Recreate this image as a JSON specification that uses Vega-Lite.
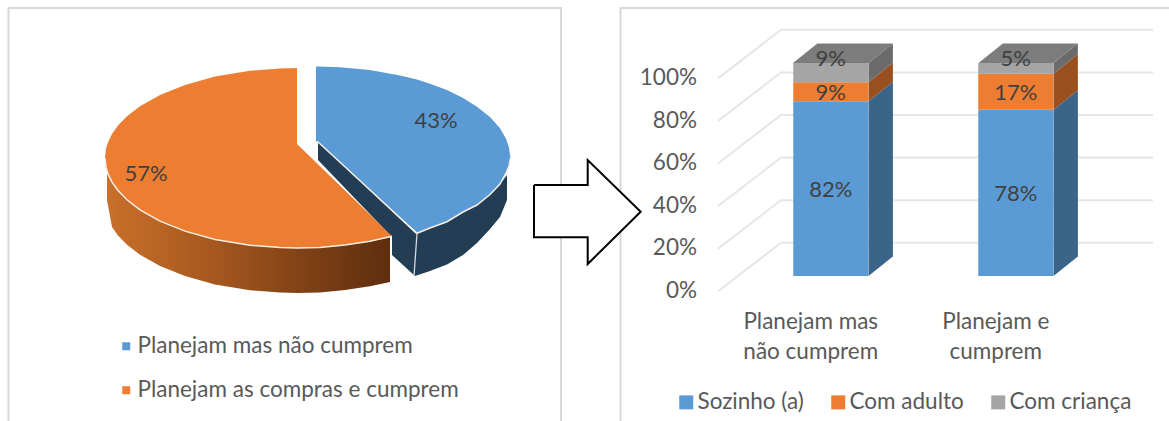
{
  "$schema": "https://vega.github.io/schema/vega-lite/v6.json",
  "padding": 0,
  "background": "white",
  "spacing": 103,
  "bounds": "flush",
  "config": {"view": {"stroke": null}, "font": "Lato", "axis": {"labelFont": "Lato"}, "legend": {"labelFont": "Lato"}},
  "datasets": {
    "frameLeft": [
      {"n": 1, "u": 8.5, "v": 421}, {"n": 2, "u": 8.5, "v": 8}, {"n": 3, "u": 561, "v": 8}, {"n": 4, "u": 561, "v": 421}
    ],
    "pieSideDark": [
      {"part": "inner", "u": 318, "v": 142, "v2": 160},
      {"part": "inner", "u": 392, "v": 211, "v2": 237},
      {"part": "inner", "u": 392, "v": 211, "v2": 255},
      {"part": "inner", "u": 415, "v": 233, "v2": 276},
      {"part": "outer", "u": 415, "v": 233.5, "v2": 276},
      {"part": "outer", "u": 430, "v": 228, "v2": 271},
      {"part": "outer", "u": 447, "v": 221.7, "v2": 264.5},
      {"part": "outer", "u": 463, "v": 212, "v2": 255},
      {"part": "outer", "u": 477, "v": 205, "v2": 243},
      {"part": "outer", "u": 490, "v": 194.5, "v2": 229},
      {"part": "outer", "u": 500, "v": 184, "v2": 217},
      {"part": "outer", "u": 507, "v": 175, "v2": 200}
    ],
    "pieSideWarm": [
      {"u": 107, "v": 173.8, "v2": 200},
      {"u": 112, "v": 182.1, "v2": 227.1},
      {"u": 118, "v": 190.5, "v2": 235.5},
      {"u": 127, "v": 199.8, "v2": 244.8},
      {"u": 140, "v": 209.8, "v2": 254.8},
      {"u": 160, "v": 221.1, "v2": 266.1},
      {"u": 185, "v": 231.1, "v2": 276.1},
      {"u": 215, "v": 239.4, "v2": 284.4},
      {"u": 250, "v": 245.3, "v2": 290.3},
      {"u": 280, "v": 247.6, "v2": 292.6},
      {"u": 297, "v": 248, "v2": 293},
      {"u": 320, "v": 247.4, "v2": 292.4},
      {"u": 345, "v": 245.1, "v2": 290.1},
      {"u": 370, "v": 241.2, "v2": 286.2},
      {"u": 390, "v": 237, "v2": 282}
    ],
    "pieTop": [
      {"slice": "Planejam mas não cumprem", "u": 316, "v": 66.5, "v2": 142},
      {"slice": "Planejam mas não cumprem", "u": 318, "v": 66.5, "v2": 142},
      {"slice": "Planejam mas não cumprem", "u": 340, "v": 67.2, "v2": 162.3},
      {"slice": "Planejam mas não cumprem", "u": 370, "v": 70, "v2": 190},
      {"slice": "Planejam mas não cumprem", "u": 400, "v": 75.4, "v2": 217.9},
      {"slice": "Planejam mas não cumprem", "u": 417, "v": 79.5, "v2": 233.3},
      {"slice": "Planejam mas não cumprem", "u": 430, "v": 83.8, "v2": 228},
      {"slice": "Planejam mas não cumprem", "u": 447, "v": 90, "v2": 221.7},
      {"slice": "Planejam mas não cumprem", "u": 463, "v": 98, "v2": 212},
      {"slice": "Planejam mas não cumprem", "u": 477, "v": 106.8, "v2": 205},
      {"slice": "Planejam mas não cumprem", "u": 490, "v": 117, "v2": 194.5},
      {"slice": "Planejam mas não cumprem", "u": 500, "v": 128.3, "v2": 184},
      {"slice": "Planejam mas não cumprem", "u": 506, "v": 138.7, "v2": 173},
      {"slice": "Planejam mas não cumprem", "u": 509, "v": 147.8, "v2": 166},
      {"slice": "Planejam mas não cumprem", "u": 510.5, "v": 158, "v2": 158},
      {"slice": "Planejam as compras e cumprem", "u": 105, "v": 158, "v2": 158},
      {"slice": "Planejam as compras e cumprem", "u": 106, "v": 148.8, "v2": 167.2},
      {"slice": "Planejam as compras e cumprem", "u": 108, "v": 142.2, "v2": 173.8},
      {"slice": "Planejam as compras e cumprem", "u": 112, "v": 133.9, "v2": 182.1},
      {"slice": "Planejam as compras e cumprem", "u": 118, "v": 125.5, "v2": 190.5},
      {"slice": "Planejam as compras e cumprem", "u": 127, "v": 116.2, "v2": 199.8},
      {"slice": "Planejam as compras e cumprem", "u": 140, "v": 106.2, "v2": 209.8},
      {"slice": "Planejam as compras e cumprem", "u": 160, "v": 94.9, "v2": 221.1},
      {"slice": "Planejam as compras e cumprem", "u": 185, "v": 84.9, "v2": 231.1},
      {"slice": "Planejam as compras e cumprem", "u": 215, "v": 76.6, "v2": 239.4},
      {"slice": "Planejam as compras e cumprem", "u": 250, "v": 70.7, "v2": 245.3},
      {"slice": "Planejam as compras e cumprem", "u": 280, "v": 68.4, "v2": 247.6},
      {"slice": "Planejam as compras e cumprem", "u": 297, "v": 68, "v2": 248},
      {"slice": "Planejam as compras e cumprem", "u": 297, "v": 144, "v2": 248},
      {"slice": "Planejam as compras e cumprem", "u": 320, "v": 166.3, "v2": 247.4},
      {"slice": "Planejam as compras e cumprem", "u": 345, "v": 190.5, "v2": 245.1},
      {"slice": "Planejam as compras e cumprem", "u": 370, "v": 214.7, "v2": 241.2},
      {"slice": "Planejam as compras e cumprem", "u": 392, "v": 236.2, "v2": 236.2}
    ],
    "pieEdge": [
      {"n": 1, "u": 417, "v": 233.5}, {"n": 2, "u": 414, "v": 276}
    ],
    "pieShares": [
      {"slice": "Planejam mas não cumprem", "share": 0.43, "u": 436, "v": 121},
      {"slice": "Planejam as compras e cumprem", "share": 0.57, "u": 146, "v": 174}
    ],
    "frameRight": [
      {"n": 1, "u": -82.5, "y": -0.6808}, {"n": 2, "u": -82.5, "y": 1.2582}, {"n": 3, "u": 466, "y": 1.2582}
    ],
    "grid": [
      {"tick": 0, "n": 1, "u": 15, "y": -0.072}, {"tick": 0, "n": 2, "u": 78, "y": 0.156}, {"tick": 0, "n": 3, "u": 450, "y": 0.156},
      {"tick": 20, "n": 1, "u": 15, "y": 0.128}, {"tick": 20, "n": 2, "u": 78, "y": 0.356}, {"tick": 20, "n": 3, "u": 450, "y": 0.356},
      {"tick": 40, "n": 1, "u": 15, "y": 0.328}, {"tick": 40, "n": 2, "u": 78, "y": 0.556}, {"tick": 40, "n": 3, "u": 450, "y": 0.556},
      {"tick": 60, "n": 1, "u": 15, "y": 0.528}, {"tick": 60, "n": 2, "u": 78, "y": 0.756}, {"tick": 60, "n": 3, "u": 450, "y": 0.756},
      {"tick": 80, "n": 1, "u": 15, "y": 0.728}, {"tick": 80, "n": 2, "u": 78, "y": 0.956}, {"tick": 80, "n": 3, "u": 450, "y": 0.956},
      {"tick": 100, "n": 1, "u": 15, "y": 0.928}, {"tick": 100, "n": 2, "u": 78, "y": 1.156}, {"tick": 100, "n": 3, "u": 450, "y": 1.156}
    ],
    "tickLabels": [
      {"tick": 0}, {"tick": 0.2}, {"tick": 0.4}, {"tick": 0.6}, {"tick": 0.8}, {"tick": 1}
    ],
    "barSides": [
      {"key": "a1", "series": "Sozinho (a)", "u": 165.5, "top": 0.82, "base": 0},
      {"key": "a1", "series": "Sozinho (a)", "u": 189.9, "top": 0.9115, "base": 0.0915},
      {"key": "a2", "series": "Com adulto", "u": 165.5, "top": 0.91, "base": 0.82},
      {"key": "a2", "series": "Com adulto", "u": 189.9, "top": 1.0015, "base": 0.9115},
      {"key": "a3", "series": "Com criança", "u": 165.5, "top": 1.0, "base": 0.91},
      {"key": "a3", "series": "Com criança", "u": 189.9, "top": 1.0915, "base": 1.0015},
      {"key": "b1", "series": "Sozinho (a)", "u": 350.5, "top": 0.78, "base": 0},
      {"key": "b1", "series": "Sozinho (a)", "u": 374.9, "top": 0.8715, "base": 0.0915},
      {"key": "b2", "series": "Com adulto", "u": 350.5, "top": 0.95, "base": 0.78},
      {"key": "b2", "series": "Com adulto", "u": 374.9, "top": 1.0415, "base": 0.8715},
      {"key": "b3", "series": "Com criança", "u": 350.5, "top": 1.0, "base": 0.95},
      {"key": "b3", "series": "Com criança", "u": 374.9, "top": 1.0915, "base": 1.0415}
    ],
    "barTops": [
      {"key": "a", "u": 90, "top": 1.0, "base": 1.0},
      {"key": "a", "u": 114.4, "top": 1.0915, "base": 1.0},
      {"key": "a", "u": 165.5, "top": 1.0915, "base": 1.0},
      {"key": "a", "u": 189.9, "top": 1.0915, "base": 1.0915},
      {"key": "b", "u": 275.5, "top": 1.0, "base": 1.0},
      {"key": "b", "u": 299.9, "top": 1.0915, "base": 1.0},
      {"key": "b", "u": 350.5, "top": 1.0915, "base": 1.0},
      {"key": "b", "u": 374.9, "top": 1.0915, "base": 1.0915}
    ],
    "arrowFill": [
      {"u": -169, "top": 0.4272, "base": 0.1817},
      {"u": -115.3, "top": 0.4272, "base": 0.1817},
      {"u": -115.3, "top": 0.5446, "base": 0.0563},
      {"u": -62.3, "top": 0.3019, "base": 0.3019}
    ],
    "arrowLine": [
      {"n": 1, "u": -169, "y": 0.4272}, {"n": 2, "u": -115.3, "y": 0.4272}, {"n": 3, "u": -115.3, "y": 0.5446},
      {"n": 4, "u": -62.3, "y": 0.3019}, {"n": 5, "u": -115.3, "y": 0.0563}, {"n": 6, "u": -115.3, "y": 0.1817},
      {"n": 7, "u": -169, "y": 0.1817}, {"n": 8, "u": -169, "y": 0.4272}
    ],
    "barValues": [
      {"group": "Planejam mas não cumprem", "series": "Sozinho (a)", "rank": 1, "value": 0.82},
      {"group": "Planejam mas não cumprem", "series": "Com adulto", "rank": 2, "value": 0.09},
      {"group": "Planejam mas não cumprem", "series": "Com criança", "rank": 3, "value": 0.09},
      {"group": "Planejam e cumprem", "series": "Sozinho (a)", "rank": 1, "value": 0.78},
      {"group": "Planejam e cumprem", "series": "Com adulto", "rank": 2, "value": 0.17},
      {"group": "Planejam e cumprem", "series": "Com criança", "rank": 3, "value": 0.05}
    ]
  },
  "hconcat": [
    {
      "width": 600,
      "height": 421,
      "layer": [
        {
          "data": {"name": "frameLeft"},
          "mark": {"type": "line", "color": "#D9D9D9", "strokeWidth": 2, "clip": false},
          "encoding": {
            "x": {"field": "u", "type": "quantitative", "scale": {"domain": [0, 600], "nice": false, "zero": false}, "axis": null},
            "y": {"field": "v", "type": "quantitative", "scale": {"domain": [421, 0], "nice": false, "zero": false}, "axis": null},
            "order": {"field": "n"}
          }
        },
        {
          "data": {"name": "pieSideDark"},
          "mark": {"type": "area", "orient": "vertical", "color": "#233E54"},
          "encoding": {
            "x": {"field": "u", "type": "quantitative"},
            "y": {"field": "v", "type": "quantitative"},
            "y2": {"field": "v2"},
            "detail": {"field": "part"}
          }
        },
        {
          "data": {"name": "pieSideWarm"},
          "mark": {
            "type": "area",
            "orient": "vertical",
            "color": {
              "gradient": "linear",
              "x1": 0, "y1": 0, "x2": 1, "y2": 0,
              "stops": [
                {"offset": 0, "color": "#C8702B"},
                {"offset": 0.35, "color": "#A9591F"},
                {"offset": 0.7, "color": "#7F4116"},
                {"offset": 1, "color": "#5E2E0E"}
              ]
            }
          },
          "encoding": {
            "x": {"field": "u", "type": "quantitative"},
            "y": {"field": "v", "type": "quantitative"},
            "y2": {"field": "v2"}
          }
        },
        {
          "data": {"name": "pieTop"},
          "mark": {"type": "area", "orient": "vertical"},
          "encoding": {
            "x": {"field": "u", "type": "quantitative"},
            "y": {"field": "v", "type": "quantitative"},
            "y2": {"field": "v2"},
            "color": {
              "field": "slice",
              "type": "nominal",
              "scale": {"domain": ["Planejam mas não cumprem", "Planejam as compras e cumprem"], "range": ["#5B9BD5", "#ED7D31"]},
              "legend": {
                "orient": "none",
                "legendX": 115,
                "legendY": 335,
                "title": null,
                "symbolType": "square",
                "symbolSize": 64,
                "symbolStrokeWidth": 0,
                "labelFontSize": 22.5,
                "labelColor": "#595959",
                "labelOffset": 0,
                "labelLimit": 420,
                "rowPadding": 21
              }
            }
          }
        },
        {
          "data": {"name": "pieTop"},
          "mark": {"type": "line", "color": "#F6EDE5", "strokeWidth": 1.5},
          "encoding": {
            "x": {"field": "u", "type": "quantitative"},
            "y": {"field": "v2", "type": "quantitative"},
            "detail": {"field": "slice"}
          }
        },
        {
          "data": {"name": "pieEdge"},
          "mark": {"type": "line", "color": "#D5DBE0", "strokeWidth": 1.3},
          "encoding": {
            "x": {"field": "u", "type": "quantitative"},
            "y": {"field": "v", "type": "quantitative"},
            "order": {"field": "n"}
          }
        },
        {
          "data": {"name": "pieShares"},
          "mark": {"type": "text", "fontSize": 22, "color": "#404040", "align": "center", "baseline": "middle"},
          "encoding": {
            "x": {"field": "u", "type": "quantitative"},
            "y": {"field": "v", "type": "quantitative"},
            "text": {"field": "share", "type": "quantitative", "format": ".0%"}
          }
        }
      ]
    },
    {
      "width": 466,
      "height": 421,
      "resolve": {"scale": {"x": "independent", "color": "independent"}},
      "layer": [
        {
          "layer": [
            {
              "data": {"name": "frameRight"},
              "mark": {"type": "line", "color": "#D9D9D9", "strokeWidth": 2, "clip": false},
              "encoding": {
                "x": {"field": "u", "type": "quantitative", "scale": {"domain": [0, 466], "nice": false, "zero": false}, "axis": null},
                "y": {"field": "y", "type": "quantitative", "scale": {"domain": [-0.6808, 1.2958], "nice": false, "zero": false}, "axis": null},
                "order": {"field": "n"}
              }
            },
            {
              "data": {"name": "grid"},
              "mark": {"type": "line", "color": "#E6E6E6", "strokeWidth": 2},
              "encoding": {
                "x": {"field": "u", "type": "quantitative"},
                "y": {"field": "y", "type": "quantitative", "axis": null},
                "detail": {"field": "tick"},
                "order": {"field": "n"}
              }
            },
            {
              "data": {"name": "barSides"},
              "mark": {"type": "area", "orient": "vertical"},
              "encoding": {
                "x": {"field": "u", "type": "quantitative"},
                "y": {"field": "top", "type": "quantitative", "axis": null},
                "y2": {"field": "base"},
                "detail": {"field": "key"},
                "color": {
                  "field": "series",
                  "type": "nominal",
                  "scale": {"domain": ["Sozinho (a)", "Com adulto", "Com criança"], "range": ["#3A6488", "#9A4F1E", "#6B6B6B"]},
                  "legend": null
                }
              }
            },
            {
              "data": {"name": "barTops"},
              "mark": {"type": "area", "orient": "vertical", "color": "#7C7C7C"},
              "encoding": {
                "x": {"field": "u", "type": "quantitative"},
                "y": {"field": "top", "type": "quantitative", "axis": null},
                "y2": {"field": "base"},
                "detail": {"field": "key"}
              }
            },
            {
              "data": {"name": "arrowFill"},
              "mark": {"type": "area", "orient": "vertical", "color": "white"},
              "encoding": {
                "x": {"field": "u", "type": "quantitative"},
                "y": {"field": "top", "type": "quantitative", "axis": null},
                "y2": {"field": "base"}
              }
            },
            {
              "data": {"name": "arrowLine"},
              "mark": {"type": "line", "color": "black", "strokeWidth": 2, "strokeJoin": "miter"},
              "encoding": {
                "x": {"field": "u", "type": "quantitative"},
                "y": {"field": "y", "type": "quantitative", "axis": null},
                "order": {"field": "n"}
              }
            },
            {
              "data": {"name": "tickLabels"},
              "mark": {"type": "text", "fontSize": 22.5, "color": "#595959", "align": "right", "baseline": "middle", "dy": 15},
              "encoding": {
                "x": {"datum": -6},
                "y": {"field": "tick", "type": "quantitative", "axis": null},
                "text": {"field": "tick", "type": "quantitative", "format": ".0%"}
              }
            }
          ]
        },
        {
          "layer": [
            {
              "data": {"name": "barValues"},
              "mark": {"type": "bar"},
              "encoding": {
                "x": {
                  "field": "group",
                  "type": "nominal",
                  "scale": {
                    "domain": ["Planejam mas não cumprem", "Planejam e cumprem"],
                    "range": [35.25, 405.25],
                    "paddingInner": 0.5946,
                    "paddingOuter": 0.2973
                  },
                  "axis": {
                    "title": null,
                    "orient": "bottom",
                    "offset": -111,
                    "domain": false,
                    "ticks": false,
                    "labelAngle": 0,
                    "labelOffset": -20,
                    "labelPadding": 0,
                    "labelFontSize": 22.5,
                    "labelColor": "#595959",
                    "labelLineHeight": 30,
                    "labelBaseline": "top",
                    "labelLimit": 0,
                    "labelExpr": "datum.value === 'Planejam e cumprem' ? ['Planejam e', 'cumprem'] : ['Planejam mas', 'não cumprem']"
                  }
                },
                "y": {
                  "field": "value",
                  "type": "quantitative",
                  "stack": "zero",
                  "axis": null
                },
                "order": {"field": "rank"},
                "color": {
                  "field": "series",
                  "type": "nominal",
                  "scale": {"domain": ["Sozinho (a)", "Com adulto", "Com criança"], "range": ["#5B9BD5", "#ED7D31", "#A5A5A5"]},
                  "legend": {
                    "orient": "none",
                    "direction": "horizontal",
                    "columns": 3,
                    "legendX": -28,
                    "legendY": 391,
                    "title": null,
                    "symbolType": "square",
                    "symbolSize": 196,
                    "symbolStrokeWidth": 0,
                    "labelFontSize": 22.5,
                    "labelColor": "#595959",
                    "labelOffset": 0,
                    "columnPadding": 23
                  }
                }
              }
            },
            {
              "data": {"name": "barValues"},
              "transform": [
                {"stack": "value", "groupby": ["group"], "sort": [{"field": "rank", "order": "ascending"}], "as": ["lo", "hi"]},
                {"filter": "datum.series !== 'Com criança'"},
                {"calculate": "(datum.lo + datum.hi) / 2", "as": "mid"}
              ],
              "mark": {"type": "text", "fontSize": 22, "color": "#404040", "align": "center", "baseline": "middle", "dy": 1.5},
              "encoding": {
                "x": {"field": "group", "type": "nominal"},
                "y": {"field": "mid", "type": "quantitative", "axis": null},
                "text": {"field": "value", "type": "quantitative", "format": ".0%"}
              }
            },
            {
              "data": {"name": "barValues"},
              "transform": [{"filter": "datum.series === 'Com criança'"}],
              "mark": {"type": "text", "fontSize": 22, "color": "#404040", "align": "center", "baseline": "middle"},
              "encoding": {
                "x": {"field": "group", "type": "nominal"},
                "y": {"datum": 1.017, "axis": null},
                "text": {"field": "value", "type": "quantitative", "format": ".0%"}
              }
            }
          ]
        }
      ]
    }
  ]
}
